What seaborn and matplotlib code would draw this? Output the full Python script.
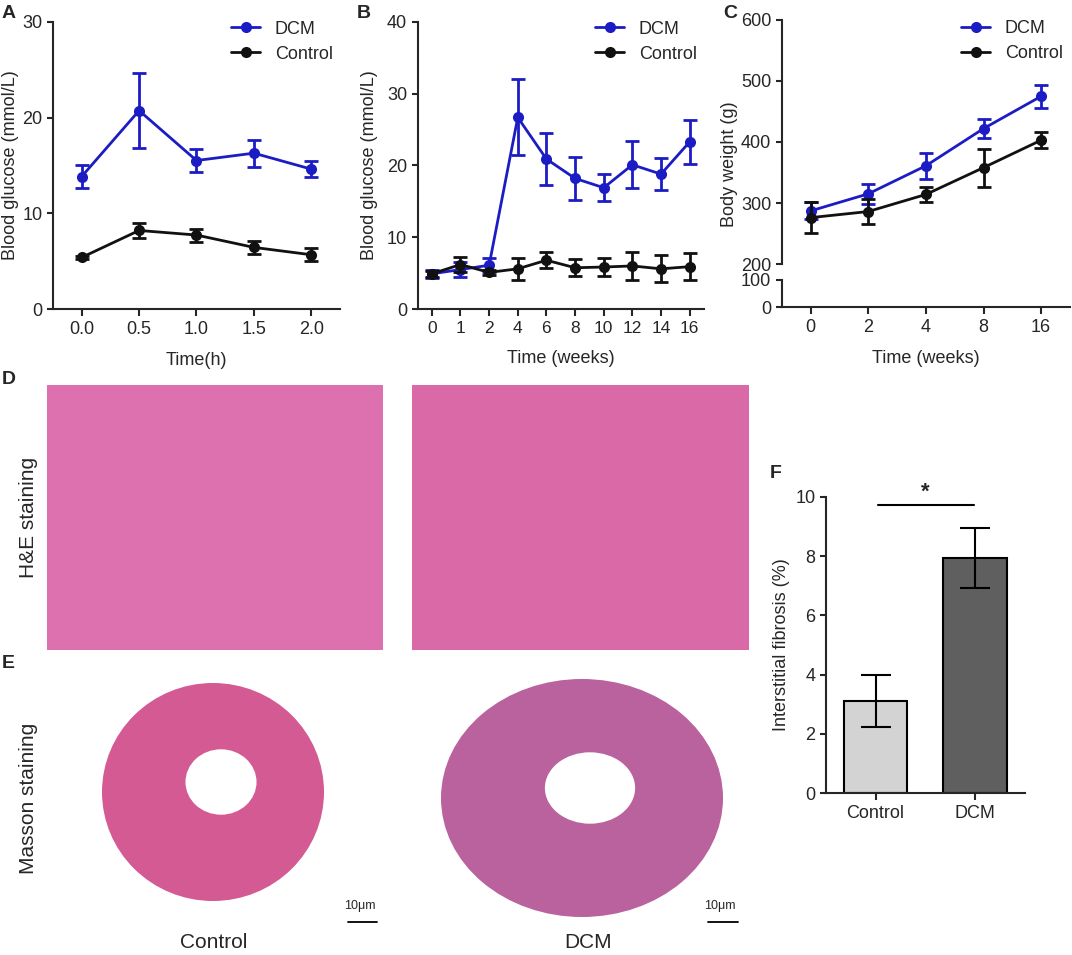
import numpy as np
import matplotlib
matplotlib.use('Agg')
import matplotlib.pyplot as plt
from matplotlib.patches import Ellipse
import seaborn as sns

# ---- data ----
time_h = [0.0, 0.5, 1.0, 1.5, 2.0]
a_dcm = [13.85, 20.74, 15.52, 16.29, 14.62]
a_dcm_err = [1.25, 3.95, 1.2, 1.4, 0.85]
a_ctrl = [5.39, 8.21, 7.73, 6.44, 5.67]
a_ctrl_err = [0.2, 0.75, 0.68, 0.7, 0.66]

weeks_b = ['0', '1', '2', '4', '6', '8', '10', '12', '14', '16']
b_dcm = [4.9, 5.5, 6.1, 26.7, 20.9, 18.2, 16.9, 20.1, 18.8, 23.3]
b_dcm_err = [0.6, 1.1, 1.0, 5.3, 3.6, 3.0, 1.9, 3.3, 2.2, 3.1]
b_ctrl = [4.9, 6.2, 5.1, 5.6, 6.8, 5.75, 5.85, 6.0, 5.6, 5.9]
b_ctrl_err = [0.4, 1.1, 0.4, 1.5, 1.15, 1.15, 1.2, 1.9, 1.9, 1.9]

weeks_c = ['0', '2', '4', '8', '16']
c_dcm = [287, 315, 361, 422, 475]
c_dcm_err = [14, 16, 21, 15, 19]
c_ctrl = [276, 286, 314, 358, 403]
c_ctrl_err = [26, 21, 13, 31, 13]

groups = ['Control', 'DCM']
fibrosis = [3.12, 7.94]
fibrosis_err = [0.87, 1.02]

BLUE = '#1c1cc4'
BLACK = '#111111'

sns.set_style('ticks')
plt.rcParams['font.family'] = ['Liberation Sans', 'DejaVu Sans']
plt.rcParams['axes.linewidth'] = 1.5
plt.rcParams['xtick.major.width'] = 1.5
plt.rcParams['ytick.major.width'] = 1.5
plt.rcParams['xtick.major.size'] = 5
plt.rcParams['ytick.major.size'] = 4
plt.rcParams['xtick.labelsize'] = 13
plt.rcParams['ytick.labelsize'] = 13

W, H = 1072, 955
fig = plt.figure(figsize=(W / 100, H / 100), dpi=100)


def px_axes(left, top, right, bottom):
    return fig.add_axes([left / W, 1 - bottom / H, (right - left) / W, (bottom - top) / H])


def px_text(x, y, s, **kw):
    kw.setdefault('ha', 'center')
    kw.setdefault('va', 'center')
    return fig.text(x / W, 1 - y / H, s, **kw)


def series(ax, x, y, err, color, label):
    sns.lineplot(x=x, y=y, ax=ax, color=color, marker='o', markersize=8,
                 markeredgewidth=0, linewidth=2, label=label)
    ax.errorbar(x, y, yerr=err, fmt='none', ecolor=color, elinewidth=2,
                capsize=5, capthick=2)


def style_legend(ax):
    ax.legend(loc='upper right', frameon=False, fontsize=13, handlelength=1.6,
              borderaxespad=0.0, labelspacing=0.45, bbox_to_anchor=(1.0, 1.03))


# ---- A ----
axA = px_axes(53, 22, 340, 309)
series(axA, time_h, a_dcm, a_dcm_err, BLUE, 'DCM')
series(axA, time_h, a_ctrl, a_ctrl_err, BLACK, 'Control')
axA.set_xlim(-0.25, 2.25)
axA.set_ylim(0, 30)
axA.set_yticks([0, 10, 20, 30])
axA.set_xticks(time_h)
axA.set_xticklabels([f'{t:.1f}' for t in time_h])
px_text(11, 165, 'Blood glucose (mmol/L)', rotation=90, fontsize=13)
axA.set_xlabel('Time(h)', fontsize=13, labelpad=10)
style_legend(axA)
sns.despine(ax=axA)

# ---- B ----
axB = px_axes(417.5, 22, 704, 309)
xb = np.arange(len(weeks_b))
series(axB, xb, b_dcm, b_dcm_err, BLUE, 'DCM')
series(axB, xb, b_ctrl, b_ctrl_err, BLACK, 'Control')
axB.set_xlim(-0.5, len(weeks_b) - 0.5)
axB.set_ylim(0, 40)
axB.set_yticks([0, 10, 20, 30, 40])
axB.set_xticks(xb)
axB.set_xticklabels(weeks_b, fontsize=12.5)
px_text(369, 165, 'Blood glucose (mmol/L)', rotation=90, fontsize=13)
axB.set_xlabel('Time (weeks)', fontsize=13, labelpad=10)
style_legend(axB)
sns.despine(ax=axB)

# ---- C (broken y axis) ----
axC = px_axes(781.7, 20, 1070, 264)
axC2 = px_axes(781.7, 280, 1070, 307)
xc = np.arange(len(weeks_c))
series(axC, xc, c_dcm, c_dcm_err, BLUE, 'DCM')
series(axC, xc, c_ctrl, c_ctrl_err, BLACK, 'Control')
for ax in (axC, axC2):
    ax.set_xlim(-0.5, len(weeks_c) - 0.5)
axC.set_ylim(200, 600)
axC.set_yticks([200, 300, 400, 500, 600])
sns.despine(ax=axC, bottom=True)
axC.tick_params(axis='x', bottom=False, labelbottom=False)
axC2.set_ylim(0, 100)
axC2.set_yticks([0, 100])
axC2.set_xticks(xc)
axC2.set_xticklabels(weeks_c)
axC2.set_xlabel('Time (weeks)', fontsize=13, labelpad=10)
sns.despine(ax=axC2)
px_text(729, 164, 'Body weight (g)', rotation=90, fontsize=13)
style_legend(axC)

# ---- D / E histology placeholders ----
he_colors = ['#dd70ae', '#d96aa7']
for (l, r), col in zip([(47, 383), (412, 749)], he_colors):
    ax = px_axes(l, 385, r, 650)
    ax.set_facecolor(col)
    ax.set_xticks([])
    ax.set_yticks([])
    for s in ax.spines.values():
        s.set_visible(False)

heart_specs = [((47, 383), (213, 792), (222, 218), '#d45a93'),
               ((412, 749), (582, 798), (282, 238), '#b9629e')]
for (l, r), (cx, cy), (ew, eh), col in heart_specs:
    ax = px_axes(l, 668, r, 930)
    ax.set_xlim(l, r)
    ax.set_ylim(930, 668)
    ax.axis('off')
    ax.add_patch(Ellipse((cx, cy), ew, eh, facecolor=col, edgecolor='none'))
    ax.add_patch(Ellipse((cx + 8, cy - 10), ew * 0.32, eh * 0.3,
                         facecolor='white', edgecolor='none'))

px_text(29, 517, 'H&E staining', rotation=90, fontsize=15)
px_text(29, 798, 'Masson staining', rotation=90, fontsize=15)
for x_txt, x0, x1 in [(360, 348, 377), (720, 708, 738)]:
    px_text(x_txt, 906, '10μm', fontsize=9)
    fig.add_artist(plt.Line2D([x0 / W, x1 / W], [1 - 922 / H, 1 - 922 / H],
                              color='black', linewidth=1.3))
px_text(214, 942, 'Control', fontsize=15)
px_text(588, 942, 'DCM', fontsize=15)

# ---- F ----
axF = px_axes(825.7, 496.7, 1025, 793.3)
sns.barplot(x=groups, y=fibrosis, ax=axF, palette=['#d3d3d3', '#5f5f5f'],
            hue=groups, legend=False, width=0.64, edgecolor='black', linewidth=1.5)
axF.errorbar(np.arange(len(groups)), fibrosis, yerr=fibrosis_err, fmt='none',
             ecolor='black', elinewidth=1.5, capsize=11, capthick=1.5)
axF.set_xlim(-0.5, 1.5)
axF.set_ylim(0, 10)
axF.set_yticks([0, 2, 4, 6, 8, 10])
axF.set_ylabel('')
px_text(782, 645, 'Interstitial fibrosis (%)', rotation=90, fontsize=13)
axF.plot([0.02, 0.99], [9.71, 9.71], color='black', linewidth=1.5, clip_on=False)
axF.text(0.5, 9.8, '*', ha='center', va='bottom', fontsize=16, fontweight='bold')
sns.despine(ax=axF)

# ---- panel letters ----
for letter, x, y in [('A', 2, 14), ('B', 357, 14), ('C', 723, 14),
                     ('D', 2, 380), ('E', 2, 663), ('F', 770, 473)]:
    px_text(x, y, letter, ha='left', fontsize=14, fontweight='bold')

fig.savefig('out.png', dpi=100)
